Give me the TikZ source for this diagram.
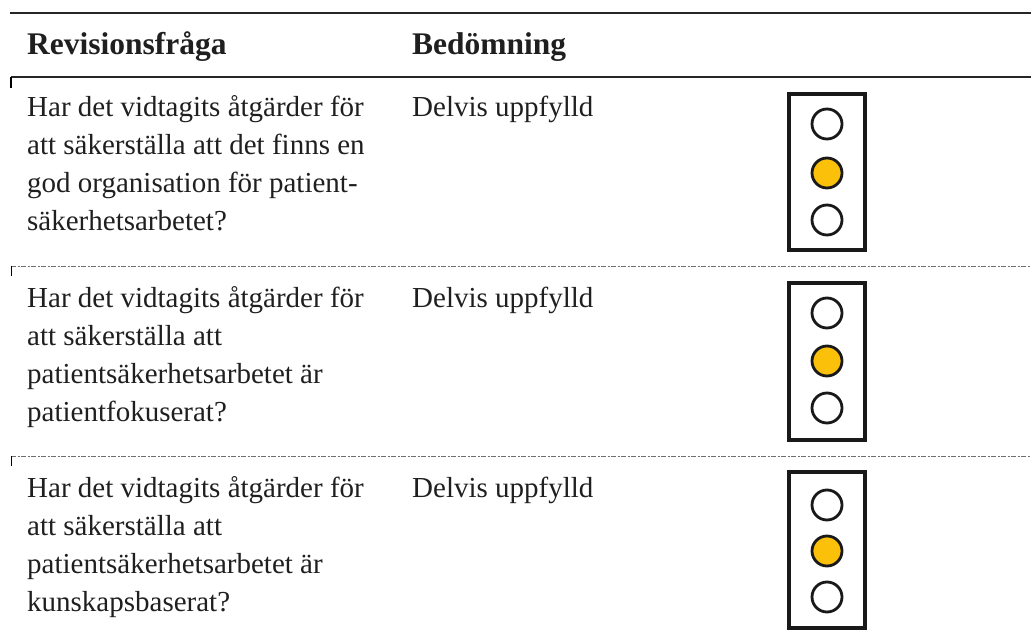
\documentclass[tikz,border=0pt]{standalone}
\usepackage{fontspec}
\setmainfont{Liberation Serif}
\definecolor{lampyellow}{RGB}{250,192,10}
\definecolor{sepgray}{RGB}{110,110,110}
\tikzset{
  txt/.style={anchor=base west, inner sep=0pt, font=\fontsize{29}{38}\selectfont, text=black!88},
  hdr/.style={anchor=base west, inner sep=0pt, font=\fontsize{31.5}{38}\selectfont\bfseries, text=black!88},
  rule/.style={line width=1.8pt, black!85},
  seprule/.style={line width=0.8pt, sepgray, dash pattern=on 5pt off 1.5pt on 2pt off 1.5pt},
  lampbox/.style={draw=black!90, line width=3.5pt, fill=white},
  lamp/.style={draw=black!90, line width=2.8pt, circle, minimum size=30pt, inner sep=0pt},
}
\begin{document}
\begin{tikzpicture}[x=1pt,y=-1pt]
\useasboundingbox (0,0) rectangle (1031,639);
% rules
\coordinate (t1) at (10,13); \coordinate (t2) at (1031,13);
\draw[rule] (t1) -- (t2);
\coordinate (h1) at (11,77); \coordinate (h2) at (1031,77);
\draw[rule] (h1) -- (h2);
\coordinate (h3) at (11,88);
\draw[line width=1.2pt] (h1) -- (h3);
\coordinate (s1) at (11,266); \coordinate (s2) at (1031,266); \coordinate (s3) at (11,276);
\draw[seprule] (s1) -- (s2);
\draw[line width=0.9pt] (s1) -- (s3);
\coordinate (u1) at (11,456); \coordinate (u2) at (1031,456); \coordinate (u3) at (11,466);
\draw[seprule] (u1) -- (u2);
\draw[line width=0.9pt] (u1) -- (u3);
% header
\node[hdr] (hq) at (27,55) {Revisionsfråga};
\node[hdr] (ha) at (412,55) {Bedömning};
% row 1
\node[txt] (q1a) at (27,117) {Har det vidtagits åtgärder för};
\node[txt] (q1b) at (27,155) {att säkerställa att det finns en};
\node[txt] (q1c) at (27,193) {god organisation för patient-};
\node[txt] (q1d) at (27,231) {säkerhetsarbetet?};
\node[txt] (a1) at (412,117) {Delvis uppfylld};
% row 2
\node[txt] (q2a) at (27,307) {Har det vidtagits åtgärder för};
\node[txt] (q2b) at (27,345) {att säkerställa att};
\node[txt] (q2c) at (27,383) {patientsäkerhetsarbetet är};
\node[txt] (q2d) at (27,421) {patientfokuserat?};
\node[txt] (a2) at (412,307) {Delvis uppfylld};
% row 3
\node[txt] (q3a) at (27,497) {Har det vidtagits åtgärder för};
\node[txt] (q3b) at (27,535) {att säkerställa att};
\node[txt] (q3c) at (27,573) {patientsäkerhetsarbetet är};
\node[txt] (q3d) at (27,611) {kunskapsbaserat?};
\node[txt] (a3) at (412,497) {Delvis uppfylld};
% traffic lights
\foreach \n/\top/\bot/\ya/\yb/\yc in {1/94/250/124/173/220, 2/283/440/313/361/408, 3/472/628/505/551/597}{
  \draw[lampbox] (789,\top) rectangle (865,\bot);
  \node[lamp] (l\n a) at (827,\ya) {};
  \node[lamp, fill=lampyellow] (l\n b) at (827,\yb) {};
  \node[lamp] (l\n c) at (827,\yc) {};
}
\end{tikzpicture}
\end{document}
